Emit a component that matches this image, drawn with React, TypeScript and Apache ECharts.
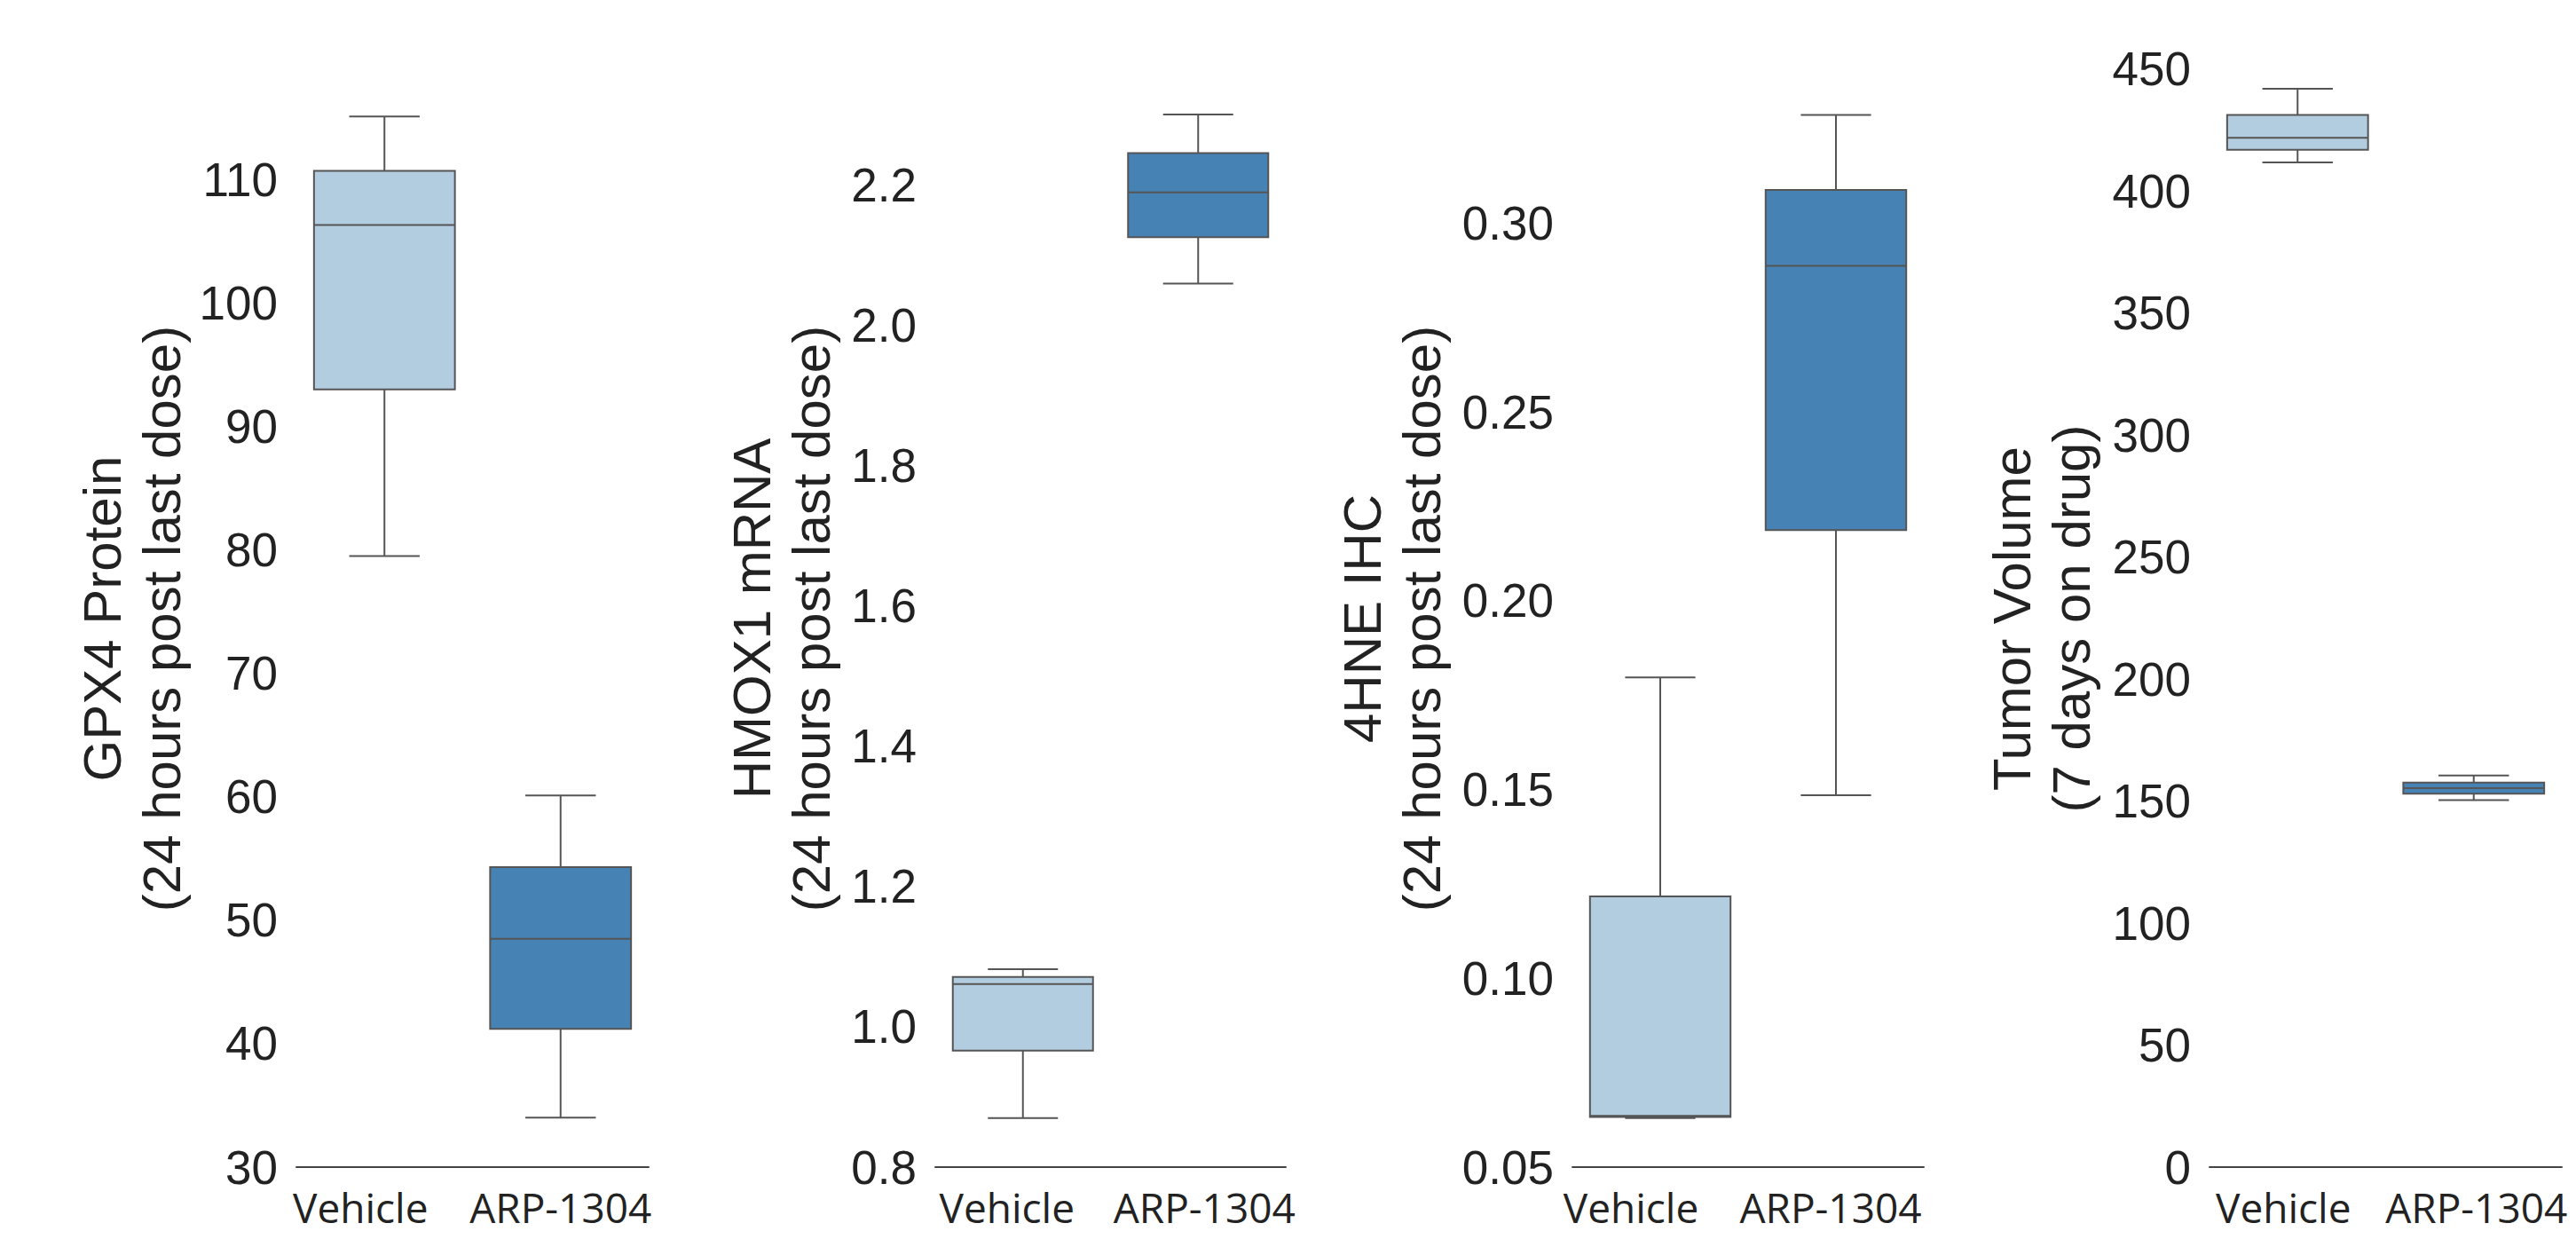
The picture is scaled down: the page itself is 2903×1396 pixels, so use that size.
import React, { useEffect, useRef } from "react";
import * as echarts from "echarts";

// ---------- data ----------
const categories = ["Vehicle", "ARP-1304"];

// box statistics: [min, Q1, median, Q3, max]
const gpx4Vehicle = [79.5, 93.0, 106.3, 110.7, 115.1];
const gpx4Arp = [34.0, 41.2, 48.5, 54.3, 60.1];
const hmox1Vehicle = [0.87, 0.966, 1.061, 1.071, 1.082];
const hmox1Arp = [2.059, 2.125, 2.189, 2.245, 2.3];
const hneVehicle = [0.063, 0.0633, 0.0636, 0.1217, 0.1797];
const hneArp = [0.1485, 0.2187, 0.2887, 0.3088, 0.3287];
const tumorVehicle = [411.7, 416.9, 421.8, 431.2, 441.9];
const tumorArp = [150.4, 153.0, 155.3, 157.6, 160.5];

// tick labels
const gpx4Ticks = ["30", "40", "50", "60", "70", "80", "90", "100", "110"];
const hmox1Ticks = ["0.8", "1.0", "1.2", "1.4", "1.6", "1.8", "2.0", "2.2"];
const hneTicks = ["0.05", "0.10", "0.15", "0.20", "0.25", "0.30"];
const tumorTicks = ["0", "50", "100", "150", "200", "250", "300", "350", "400", "450"];

// axis titles
const gpx4Title = "GPX4 Protein\n(24 hours post last dose)";
const hmox1Title = "HMOX1 mRNA\n(24 hours post last dose)";
const hneTitle = "4HNE IHC\n(24 hours post last dose)";
const tumorTitle = "Tumor Volume\n(7 days on drug)";

// ---------- layout / style ----------
const W = 2903;
const H = 1396;
const GRID_TOP = 70;
const GRID_BOTTOM = 81;
const BOX_COLORS = ["#b3cde0", "#4682b4"];
const LINE_COLOR = "#555555";
const TEXT_COLOR = "#222222";

const panels = [
  { title: gpx4Title, ticks: gpx4Ticks, vehicle: gpx4Vehicle, arp: gpx4Arp, left: 334, width: 397, max: 119.5, nameGap: 118, labelShift: [-27, 0] },
  { title: hmox1Title, ticks: hmox1Ticks, vehicle: hmox1Vehicle, arp: hmox1Arp, left: 1054, width: 395, max: 2.3746, nameGap: 106, labelShift: [-18, 7] },
  { title: hneTitle, ticks: hneTicks, vehicle: hneVehicle, arp: hneArp, left: 1772, width: 396, max: 0.34267, nameGap: 136, labelShift: [-33, -6] },
  { title: tumorTitle, ticks: tumorTicks, vehicle: tumorVehicle, arp: tumorArp, left: 2490, width: 397, max: 452.8, nameGap: 122, labelShift: [-16, 3] },
];

function renderBox(params: any, api: any) {
  const x = api.value(0);
  const band = api.size([1, 0])[0];
  const bw = band * 0.8;
  const pMin = api.coord([x, api.value(1)]);
  const pQ1 = api.coord([x, api.value(2)]);
  const pMed = api.coord([x, api.value(3)]);
  const pQ3 = api.coord([x, api.value(4)]);
  const pMax = api.coord([x, api.value(5)]);
  const cx = pMed[0];
  const stroke = { stroke: LINE_COLOR, lineWidth: 2 };
  return {
    type: "group",
    children: [
      { type: "line", shape: { x1: cx, y1: pQ1[1], x2: cx, y2: pMin[1] }, style: stroke },
      { type: "line", shape: { x1: cx, y1: pQ3[1], x2: cx, y2: pMax[1] }, style: stroke },
      { type: "line", shape: { x1: cx - bw / 4, y1: pMin[1], x2: cx + bw / 4, y2: pMin[1] }, style: stroke },
      { type: "line", shape: { x1: cx - bw / 4, y1: pMax[1], x2: cx + bw / 4, y2: pMax[1] }, style: stroke },
      {
        type: "rect",
        shape: { x: cx - bw / 2, y: pQ3[1], width: bw, height: pQ1[1] - pQ3[1] },
        style: { fill: BOX_COLORS[params.dataIndex], stroke: LINE_COLOR, lineWidth: 2 },
      },
      { type: "line", shape: { x1: cx - bw / 2, y1: pMed[1], x2: cx + bw / 2, y2: pMed[1] }, style: stroke },
    ],
  };
}

function buildOption() {
  const grid: any[] = [];
  const xAxis: any[] = [];
  const yAxis: any[] = [];
  const series: any[] = [];
  panels.forEach((p, i) => {
    const tickVals = p.ticks.map(Number);
    const interval = tickVals[1] - tickVals[0];
    grid.push({ left: p.left, width: p.width, top: GRID_TOP, bottom: GRID_BOTTOM, containLabel: false });
    xAxis.push({
      type: "category",
      gridIndex: i,
      boundaryGap: true,
      data: categories.map((c, k) => {
        const s = p.labelShift[k];
        return {
          value: c,
          textStyle: { padding: s < 0 ? [0, -2 * s, 0, 0] : [0, 0, 0, 2 * s] },
        };
      }),
      axisLine: { show: true, lineStyle: { color: "#444444", width: 2 } },
      axisTick: { show: false },
      splitLine: { show: false },
      axisLabel: {
        interval: 0,
        margin: 22,
        fontSize: 46,
        lineHeight: 46,
        fontFamily: "'Open Sans', 'Noto Sans', sans-serif",
        color: TEXT_COLOR,
      },
    });
    yAxis.push({
      type: "value",
      gridIndex: i,
      min: tickVals[0],
      max: p.max,
      interval: interval,
      axisLine: { show: false },
      axisTick: { show: false },
      splitLine: { show: false },
      axisLabel: {
        margin: 21,
        fontSize: 53,
        fontFamily: "'Liberation Sans', Arial, sans-serif",
        color: TEXT_COLOR,
        showMaxLabel: false,
        formatter: (v: number) => {
          const k = tickVals.findIndex((t) => Math.abs(t - v) < interval * 1e-3);
          return k >= 0 ? p.ticks[k] : "";
        },
      },
      name: p.title,
      nameLocation: "middle",
      nameRotate: 90,
      nameGap: p.nameGap,
      nameTextStyle: {
        fontSize: 60,
        lineHeight: 67,
        fontFamily: "'Liberation Sans', Arial, sans-serif",
        color: TEXT_COLOR,
        padding: [0, 9, 0, 0],
      },
    });
    series.push({
      type: "custom",
      xAxisIndex: i,
      yAxisIndex: i,
      renderItem: renderBox,
      encode: { x: 0, y: [1, 2, 3, 4, 5] },
      data: [
        [0, ...p.vehicle],
        [1, ...p.arp],
      ],
      silent: true,
    });
  });
  return {
    animation: false,
    backgroundColor: "#ffffff",
    grid,
    xAxis,
    yAxis,
    series,
  };
}

export default function App() {
  const ref = useRef<HTMLDivElement>(null);
  useEffect(() => {
    if (!ref.current) return;
    const chart = echarts.init(ref.current, undefined, { renderer: "svg" });
    chart.setOption(buildOption() as any);
    return () => chart.dispose();
  }, []);
  return (
    <div
      ref={ref}
      style={{ position: "absolute", left: 0, top: 0, width: W, height: H, background: "#ffffff" }}
    />
  );
}
